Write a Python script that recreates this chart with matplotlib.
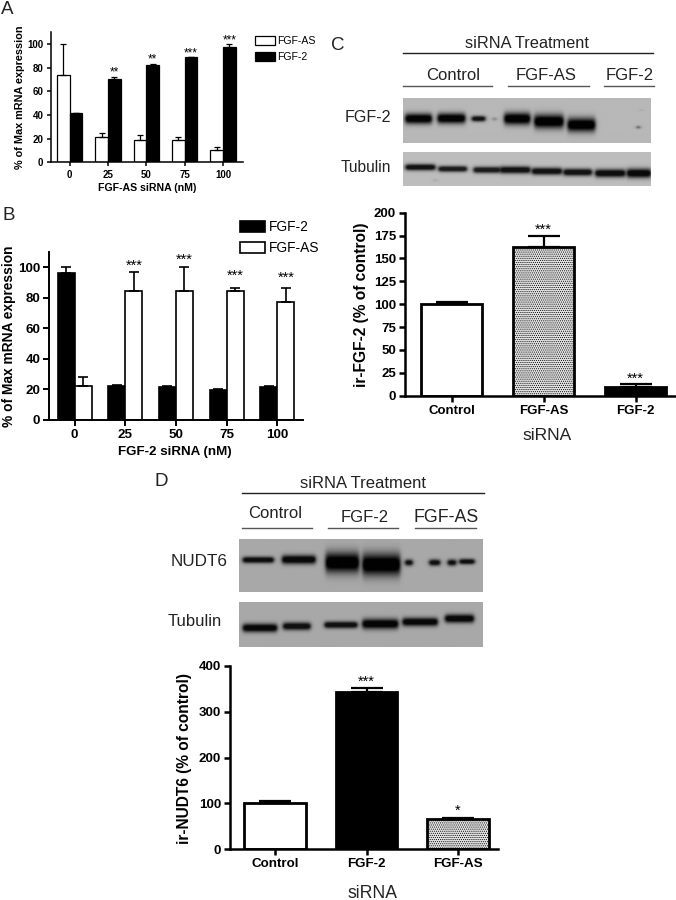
import numpy as np
import matplotlib
matplotlib.use("Agg")
import matplotlib.pyplot as plt
from matplotlib.transforms import Affine2D

plt.rcParams['font.family'] = ['Liberation Sans', 'DejaVu Sans']
plt.rcParams['hatch.linewidth'] = 0.5

W, H = 676, 900

# panel A
dosesA = ['0', '25', '50', '75', '100']
asA = [73.5, 21, 18.5, 18.5, 10]
asA_err = [26.5, 4, 4.5, 2.5, 2.5]
fgfA = [41.5, 70.5, 82, 88.5, 97]
fgfA_err = [0.5, 1.5, 1, 0.5, 3]
starsA = ['', '**', '**', '***', '***']
starsA_y = [0, 75.5, 86.5, 91.5, 102.5]

# panel B
dosesB = ['0', '25', '50', '75', '100']
fgfB = [96, 22.5, 21.5, 19.5, 21.5]
fgfB_err = [4, 0.5, 0.5, 0.5, 0.5]
asB = [22, 84.5, 84.5, 84.5, 77]
asB_err = [6, 12, 15.5, 1.5, 9.5]
starsB = ['', '***', '***', '***', '***']
starsB_y = [0, 101, 105, 94, 93]

# panel C
catsC = ['Control', 'FGF-AS', 'FGF-2']
valsC = [100, 163, 10]
errC = [2, 12, 3]
starsC = ['', '***', '***']
starsC_y = [0, 181, 18]

# panel D
catsD = ['Control', 'FGF-2', 'FGF-AS']
valsD = [100, 343, 65]
errD = [5, 8, 3]
starsD = ['', '***', '*']
starsD_y = [0, 364, 83]

# blot bands: x start, x end, y centre, height, darkness (in zoomed crop units)
bandsC1 = [(225, 305, 297, 24, .97), (322, 405, 296, 24, .97), (425, 465, 297, 13, .9),
           (488, 498, 298, 8, .3), (522, 600, 297, 28, .98), (612, 700, 305, 32, .99),
           (712, 795, 315, 32, .99), (921, 928, 322, 7, .7), (931, 935, 272, 4, .25)]
bandsC2 = [(226, 315, 441, 15, .9), (325, 410, 446, 14, .85), (430, 510, 449, 15, .85),
           (510, 600, 449, 17, .9), (605, 695, 453, 17, .9), (700, 785, 456, 17, .9),
           (795, 885, 459, 19, .93), (890, 962, 459, 22, .95), (312, 318, 480, 5, .2)]
bandsD1 = [(308, 400, 284, 15, .92), (425, 525, 283, 21, .95), (555, 655, 292, 48, .99),
           (665, 778, 298, 52, .99), (793, 815, 292, 15, .9), (865, 897, 292, 15, .9),
           (920, 945, 292, 15, .9), (955, 1000, 289, 13, .9)]
bandsD2 = [(308, 410, 488, 20, .95), (428, 510, 483, 18, .9), (552, 650, 479, 16, .9),
           (665, 772, 476, 24, .97), (785, 890, 470, 20, .95), (912, 998, 460, 20, .95)]

fig = plt.figure(figsize=(W / 100, H / 100), dpi=100)
px = Affine2D().scale(1 / W, -1 / H).translate(0, 1) + fig.transFigure


def make_axes(left, right, top, bottom, lw):
    ax = fig.add_axes([left / W, 1 - bottom / H, (right - left) / W, (bottom - top) / H])
    ax.spines['top'].set_visible(False)
    ax.spines['right'].set_visible(False)
    ax.spines['left'].set_linewidth(lw)
    ax.spines['bottom'].set_linewidth(lw)
    ax.patch.set_alpha(0)
    return ax


def blot(x0, x1, y0, y1, ox, oy, bands, bg):
    # soft grey rectangle with dark blurry bands
    xs = np.arange(x0, x1, 0.5)
    ys = np.arange(y0, y1, 0.5)
    xx, yy = np.meshgrid(xs, ys)
    light = np.ones_like(xx)
    for a, b, yc, h, d in bands:
        a, b, yc, h = ox + a / 3, ox + b / 3, oy + yc / 3, h / 3
        prof = 0.5 * (np.tanh((xx - a) / 2.2) - np.tanh((xx - b) / 2.2))
        prof = prof * np.exp(-(np.abs(yy - yc) / (h / 1.6)) ** 2)
        light = light * (1 - d * np.clip(prof * 1.25, 0, 1))
    ax = fig.add_axes([x0 / W, 1 - y1 / H, (x1 - x0) / W, (y1 - y0) / H])
    ax.imshow(light * bg, cmap='gray', vmin=0, vmax=1, aspect='auto', interpolation='bilinear')
    ax.axis('off')


def header(text, x, y, size=12, color='#222222'):
    fig.text(x, y, text, transform=px, ha='center', va='center', fontsize=size, color=color)


def rule(x0, x1, y, color='#555555', lw=1.0):
    fig.add_artist(plt.Line2D([x0, x1], [y, y], transform=px, color=color, lw=lw))


def grouped(ax, first, firstfc, firsterr, second, secondfc, seconderr, width, lw, cap):
    x = np.arange(len(first))
    b1 = ax.bar(x - width / 2, first, width, color=firstfc, edgecolor='black', linewidth=lw)
    b2 = ax.bar(x + width / 2, second, width, color=secondfc, edgecolor='black', linewidth=lw)
    ax.errorbar(x - width / 2, first, yerr=[np.zeros(len(first)), firsterr], fmt='none',
                ecolor='black', elinewidth=lw, capsize=cap, capthick=lw)
    ax.errorbar(x + width / 2, second, yerr=[np.zeros(len(second)), seconderr], fmt='none',
                ecolor='black', elinewidth=lw, capsize=cap, capthick=lw)
    return b1, b2


# A
axA = make_axes(51, 243, 32, 162.3, 1.1)
bA1, bA2 = grouped(axA, asA, 'white', asA_err, fgfA, 'black', fgfA_err, 0.33, 0.9, 2.5)
axA.set_xlim(-0.488, 4.52)
axA.set_ylim(0, 110)
axA.set_yticks([0, 20, 40, 60, 80, 100])
axA.set_xticks(range(5))
axA.set_xticklabels(dosesA)
axA.tick_params(labelsize=7, width=1.1, length=3, pad=2.5)
for lab in axA.get_xticklabels() + axA.get_yticklabels():
    lab.set_fontweight('bold')
for i in range(5):
    axA.text(i + 0.165, starsA_y[i], starsA[i], ha='center', va='center', fontsize=8.5)
fig.text(20, 97.5, '% of Max mRNA expression', transform=px, rotation=90, ha='center', va='center',
         fontsize=7.8, fontweight='bold')
fig.text(146.7, 187.7, 'FGF-AS siRNA (nM)', transform=px, ha='center', va='center',
         fontsize=7.6, fontweight='bold')
fig.legend([bA1, bA2], ['FGF-AS', 'FGF-2'], loc='upper left', bbox_to_anchor=(255, 36),
           bbox_transform=px, frameon=False, fontsize=7.6, borderpad=0, borderaxespad=0,
           handlelength=1.85, handleheight=0.9, labelspacing=0.6, handletextpad=0.2)

# B
axB = make_axes(49.3, 303, 251.7, 420, 1.4)
bB1, bB2 = grouped(axB, fgfB, 'black', fgfB_err, asB, 'white', asB_err, 0.335, 1.2, 3.6)
axB.set_xlim(-0.501, 4.51)
axB.set_ylim(0, 110)
axB.set_yticks([0, 20, 40, 60, 80, 100])
axB.set_xticks(range(5))
axB.set_xticklabels(dosesB)
axB.tick_params(labelsize=9.6, width=1.4, length=4, pad=2.5)
for lab in axB.get_xticklabels() + axB.get_yticklabels():
    lab.set_fontweight('bold')
for i in range(5):
    axB.text(i + 0.17, starsB_y[i], starsB[i], ha='center', va='center', fontsize=10.5)
fig.text(9, 336, '% of Max mRNA expression', transform=px, rotation=90, ha='center', va='center',
         fontsize=9.9, fontweight='bold')
fig.text(175, 452, 'FGF-2 siRNA (nM)', transform=px, ha='center', va='center',
         fontsize=9.6, fontweight='bold')
fig.legend([bB1, bB2], ['FGF-2', 'FGF-AS'], loc='upper left', bbox_to_anchor=(240, 220),
           bbox_transform=px, frameon=False, fontsize=9.9, borderpad=0, borderaxespad=0,
           handlelength=1.85, handleheight=0.85, labelspacing=0.5, handletextpad=0.25)

# C blots
header('siRNA Treatment', 527, 44, 11.8)
rule(403, 653, 52.5, '#222222')
header('Control', 453, 75)
header('FGF-AS', 546, 75)
header('FGF-2', 630, 75)
rule(403, 492, 86)
rule(507.7, 588.7, 86)
rule(604.3, 653.7, 86)
blot(403, 651, 98, 143, 330, 20, bandsC1, 0.72)
blot(403, 651, 152, 186, 330, 20, bandsC2, 0.74)
fig.text(391, 118, 'FGF-2', transform=px, ha='right', va='center', fontsize=11.6, color='#222222')
fig.text(391, 167, 'Tubulin', transform=px, ha='right', va='center', fontsize=11.2, color='#222222')

# C bars
axC = make_axes(405, 675, 212.7, 395.7, 1.8)
xC = np.arange(3)
axC.bar(xC, valsC, 0.667, color=['white', '#e4e4e4', 'black'], edgecolor='black', linewidth=2,
        hatch=['', '........', ''])
axC.errorbar(xC, valsC, yerr=[np.zeros(3), errC], fmt='none', ecolor='black', elinewidth=1.6,
             capsize=11.5, capthick=1.6)
axC.set_xlim(-0.508, 2.427)
axC.set_ylim(0, 200)
axC.set_yticks(range(0, 201, 25))
axC.set_xticks(xC)
axC.set_xticklabels(catsC)
axC.tick_params(labelsize=9.5, width=1.8, length=4, pad=2.5)
for lab in axC.get_xticklabels() + axC.get_yticklabels():
    lab.set_fontweight('bold')
for i in range(3):
    axC.text(i, starsC_y[i], starsC[i], ha='center', va='center', fontsize=10.5)
fig.text(361.7, 305, 'ir-FGF-2 (% of control)', transform=px, rotation=90, ha='center', va='center',
         fontsize=11.2, fontweight='bold')
header('siRNA', 546.7, 435.7, 12.5)

# D blots
header('siRNA Treatment', 362.7, 484)
rule(242, 484, 493, '#222222')
header('Control', 275, 514)
header('FGF-2', 365, 518)
header('FGF-AS', 445.7, 518, 12.8)
rule(242, 312, 527.5)
rule(328, 398, 527.5)
rule(415, 476, 527.5)
blot(239, 482, 539, 592, 140, 465, bandsD1, 0.66)
blot(239, 482, 602, 647, 140, 465, bandsD2, 0.66)
fig.text(228, 561.7, 'NUDT6', transform=px, ha='right', va='center', fontsize=12.3, color='#222222')
fig.text(222, 622, 'Tubulin', transform=px, ha='right', va='center', fontsize=12, color='#222222')

# D bars
axD = make_axes(230, 498, 665.7, 849.3, 1.8)
xD = np.arange(3)
axD.bar(xD, valsD, 0.675, color=['white', 'black', '#e4e4e4'], edgecolor='black', linewidth=2,
        hatch=['', '', '........'])
axD.errorbar(xD, valsD, yerr=[np.zeros(3), errD], fmt='none', ecolor='black', elinewidth=1.6,
             capsize=11.5, capthick=1.6)
axD.set_xlim(-0.492, 2.437)
axD.set_ylim(0, 400)
axD.set_yticks(range(0, 401, 100))
axD.set_xticks(xD)
axD.set_xticklabels(catsD)
axD.tick_params(labelsize=9.6, width=1.8, length=4, pad=2.5)
for lab in axD.get_xticklabels() + axD.get_yticklabels():
    lab.set_fontweight('bold')
for i in range(3):
    axD.text(i, starsD_y[i], starsD[i], ha='center', va='center', fontsize=10.5)
fig.text(184, 758, 'ir-NUDT6 (% of control)', transform=px, rotation=90, ha='center', va='center',
         fontsize=11.2, fontweight='bold')
header('siRNA', 372, 893, 12.7)

# panel letters
for letter, x, y in [('A', 1, 10), ('B', 2, 216), ('C', 331, 45), ('D', 154, 481)]:
    fig.text(x, y, letter, transform=px, ha='left', va='center', fontsize=13.5, color='#222222')

fig.savefig('out.png', dpi=100)
